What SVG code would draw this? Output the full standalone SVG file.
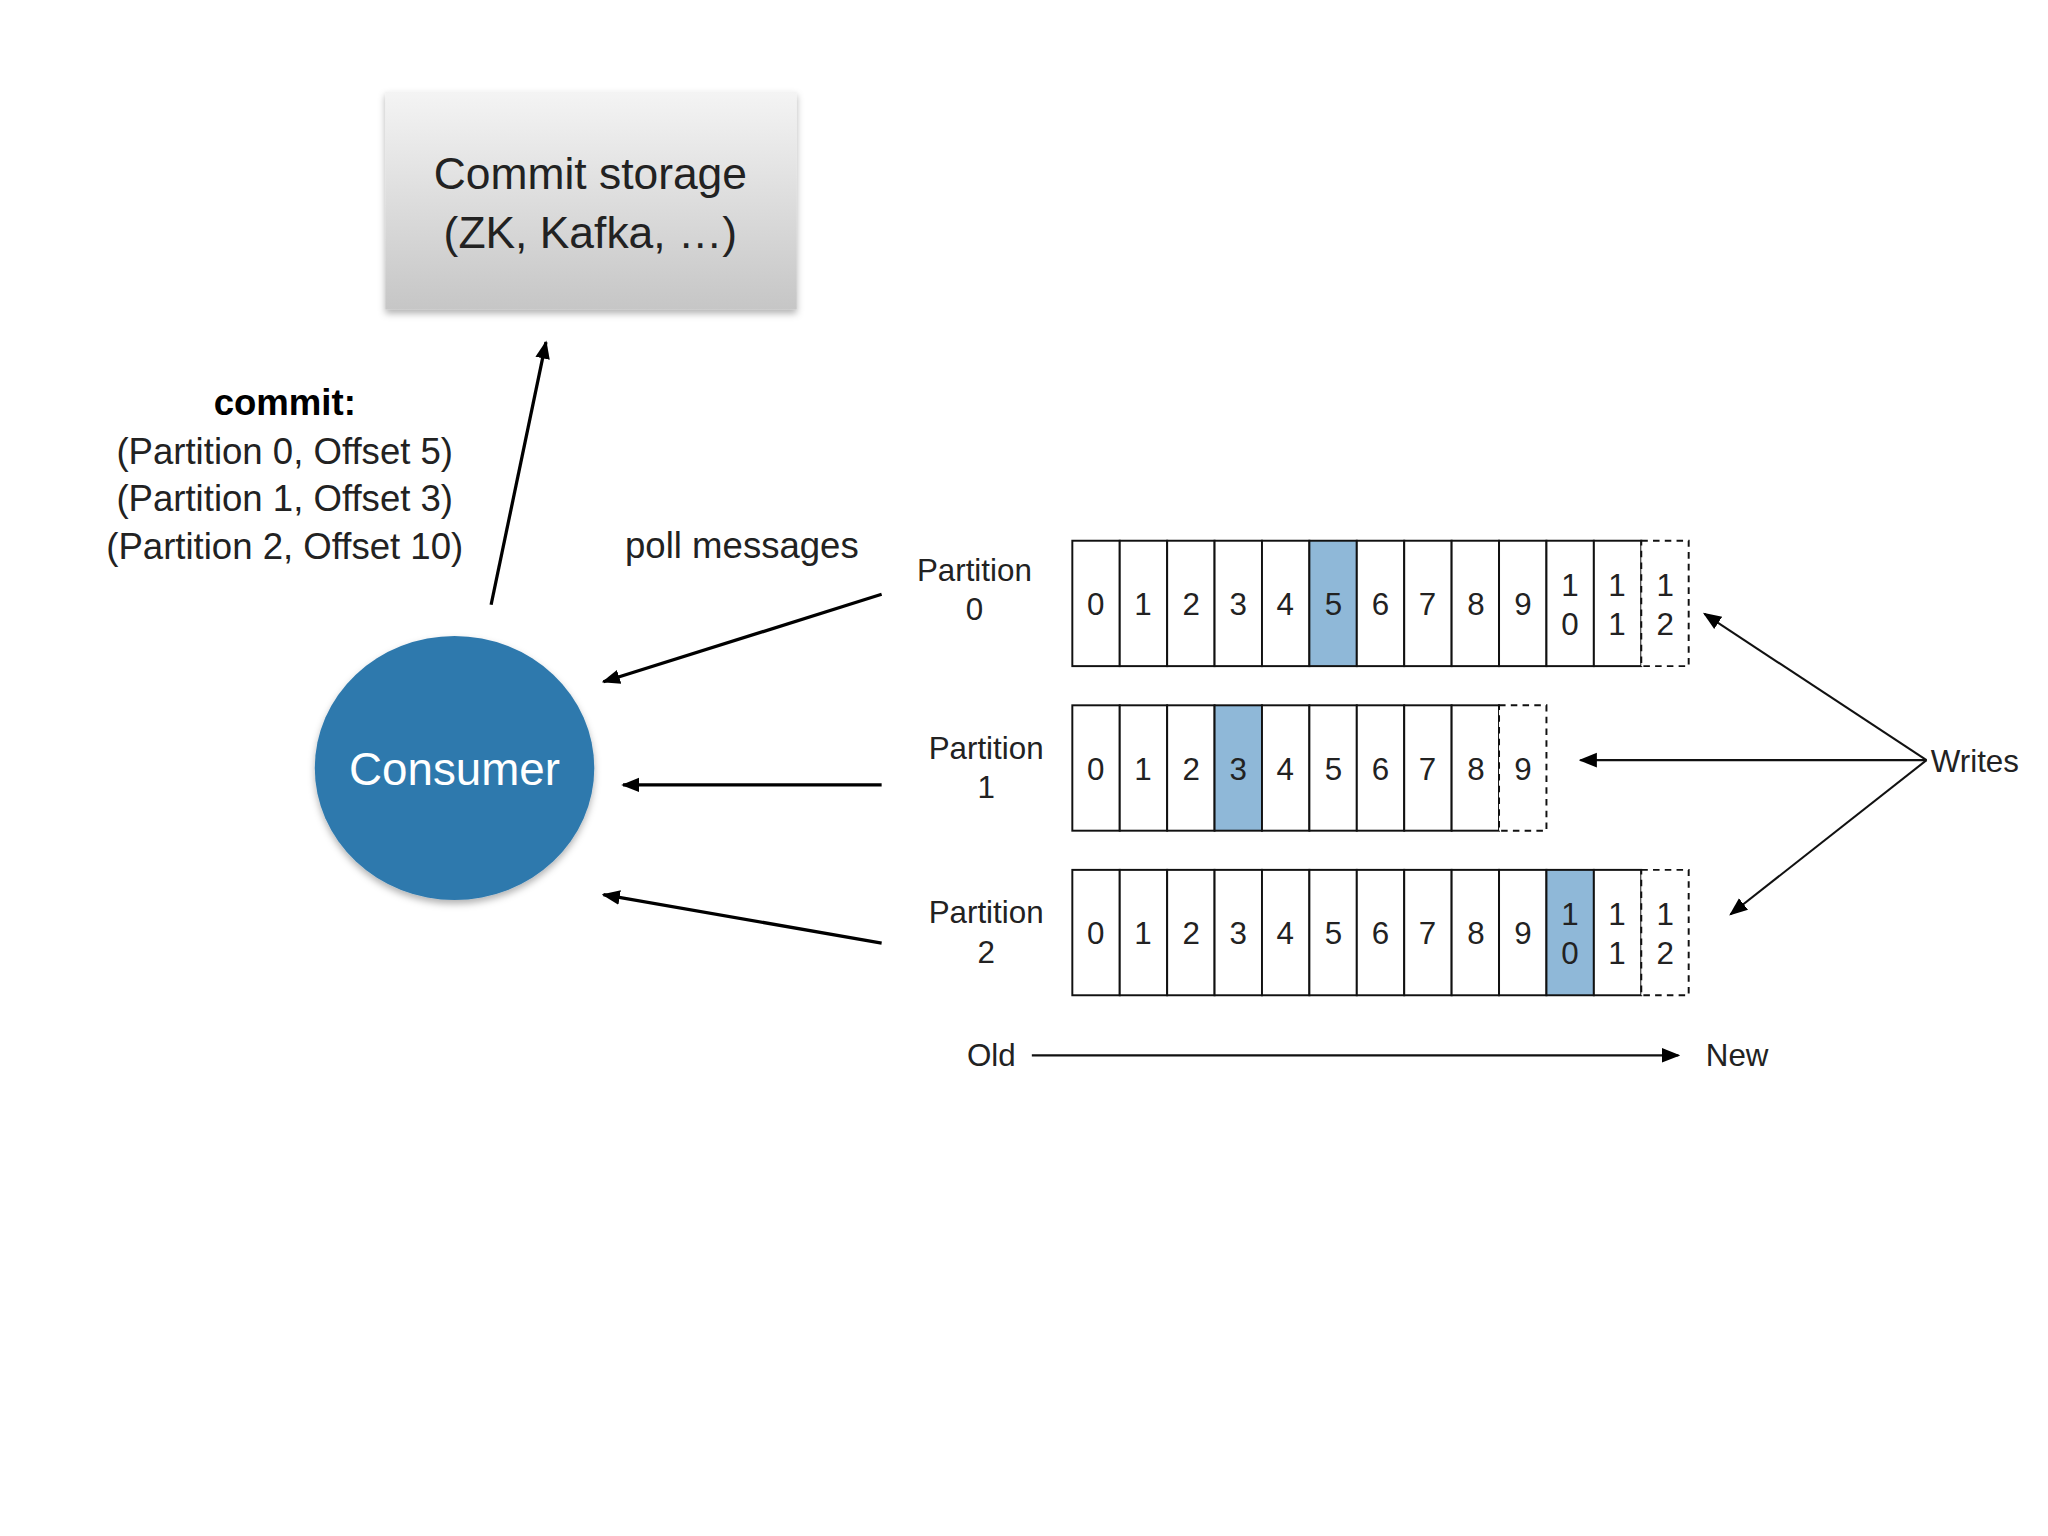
<svg xmlns="http://www.w3.org/2000/svg" width="2048" height="1536" viewBox="0 0 2048 1536">
<defs>
<linearGradient id="g" x1="0" y1="0" x2="0" y2="1"><stop offset="0" stop-color="#f4f4f4"/><stop offset="1" stop-color="#c6c6c6"/></linearGradient>
<filter id="sh" x="-10%" y="-10%" width="120%" height="130%"><feDropShadow dx="0" dy="3" stdDeviation="3" flood-opacity="0.3"/></filter>
<marker id="a" viewBox="0 0 10 10" refX="9" refY="5" markerWidth="7" markerHeight="7" orient="auto-start-reverse" markerUnits="userSpaceOnUse"><path d="M0,0L10,5L0,10z" fill="#000"/></marker>
<marker id="b" viewBox="0 0 10 10" refX="9" refY="5" markerWidth="14" markerHeight="14" orient="auto" markerUnits="userSpaceOnUse"><path d="M0,1L10,5L0,9z" fill="#000"/></marker>
</defs>
<style>
text{font-family:"Helvetica Neue","Liberation Sans",Arial,sans-serif;text-anchor:middle}
.c{fill:#fff;stroke:#111;stroke-width:1.5}
.d{fill:#fff;stroke:#111;stroke-width:1.5;stroke-dasharray:5,4}
.h{fill:#8fb8d8;stroke:#111;stroke-width:1.5}
.n{font-size:24px;fill:#222}
.p{font-size:24px;fill:#222}
.l{stroke:#000;stroke-width:2.5;fill:none}
.t{stroke:#111;stroke-width:1.6;fill:none}
</style>
<rect width="2048" height="1536" fill="#fff"/>
<g transform="scale(1.30612)">
<g id="commit-storage">
<rect x="295" y="70" width="315" height="167" fill="url(#g)" filter="url(#sh)"/>
<text x="452" y="145" font-size="34" fill="#222">Commit storage</text>
<text x="452" y="190" font-size="34" fill="#222">(ZK, Kafka, …)</text>
</g>
<g id="consumer">
<ellipse cx="348" cy="588" rx="107" ry="101" fill="#2f79ad" filter="url(#sh)"/>
<text x="348" y="601" font-size="35" fill="#fff">Consumer</text>
</g>
<g id="labels">
<text x="218" y="318" font-size="28" font-weight="bold">commit:</text>
<text x="218" y="355" font-size="28" fill="#222">(Partition 0, Offset 5)</text>
<text x="218" y="391" font-size="28" fill="#222">(Partition 1, Offset 3)</text>
<text x="218" y="428" font-size="28" fill="#222">(Partition 2, Offset 10)</text>
<text x="568" y="427" font-size="28" fill="#222">poll messages</text>
</g>
<g id="connectors">
<line class="l" x1="376" y1="463" x2="418" y2="262" marker-end="url(#b)"/>
<line class="l" x1="675" y1="455" x2="462" y2="522" marker-end="url(#b)"/>
<line class="l" x1="675" y1="601" x2="477" y2="601" marker-end="url(#b)"/>
<line class="l" x1="675" y1="722" x2="462" y2="685" marker-end="url(#b)"/>
<line class="t" x1="1475" y1="582" x2="1305" y2="470" marker-end="url(#b)"/>
<line class="t" x1="1475" y1="582" x2="1210" y2="582" marker-end="url(#b)"/>
<line class="t" x1="1475" y1="582" x2="1325" y2="700" marker-end="url(#b)"/>
<line class="t" x1="790" y1="808" x2="1285" y2="808" marker-end="url(#b)"/>
</g>
<g id="partition-0">
<text class="p" x="746" y="445">Partition</text><text class="p" x="746" y="475">0</text>
<rect class="c" x="821" y="414" width="36.3" height="96"/><rect class="c" x="857.3" y="414" width="36.3" height="96"/><rect class="c" x="893.6" y="414" width="36.3" height="96"/><rect class="c" x="929.9" y="414" width="36.3" height="96"/><rect class="c" x="966.2" y="414" width="36.3" height="96"/><rect class="h" x="1002.5" y="414" width="36.3" height="96"/><rect class="c" x="1038.8" y="414" width="36.3" height="96"/><rect class="c" x="1075.1" y="414" width="36.3" height="96"/><rect class="c" x="1111.4" y="414" width="36.3" height="96"/><rect class="c" x="1147.7" y="414" width="36.3" height="96"/><rect class="c" x="1184" y="414" width="36.3" height="96"/><rect class="c" x="1220.3" y="414" width="36.3" height="96"/><rect class="d" x="1256.6" y="414" width="36.3" height="96"/>
<text class="n" x="839" y="471">0</text><text class="n" x="875" y="471">1</text><text class="n" x="912" y="471">2</text><text class="n" x="948" y="471">3</text><text class="n" x="984" y="471">4</text><text class="n" x="1021" y="471">5</text><text class="n" x="1057" y="471">6</text><text class="n" x="1093" y="471">7</text><text class="n" x="1130" y="471">8</text><text class="n" x="1166" y="471">9</text>
<text class="n" x="1202" y="456">1</text><text class="n" x="1202" y="486">0</text><text class="n" x="1238" y="456">1</text><text class="n" x="1238" y="486">1</text><text class="n" x="1275" y="456">1</text><text class="n" x="1275" y="486">2</text>
</g>
<g id="partition-1">
<text class="p" x="755" y="581">Partition</text><text class="p" x="755" y="611">1</text>
<rect class="c" x="821" y="540" width="36.3" height="96"/><rect class="c" x="857.3" y="540" width="36.3" height="96"/><rect class="c" x="893.6" y="540" width="36.3" height="96"/><rect class="h" x="929.9" y="540" width="36.3" height="96"/><rect class="c" x="966.2" y="540" width="36.3" height="96"/><rect class="c" x="1002.5" y="540" width="36.3" height="96"/><rect class="c" x="1038.8" y="540" width="36.3" height="96"/><rect class="c" x="1075.1" y="540" width="36.3" height="96"/><rect class="c" x="1111.4" y="540" width="36.3" height="96"/><rect class="d" x="1147.7" y="540" width="36.3" height="96"/>
<text class="n" x="839" y="597">0</text><text class="n" x="875" y="597">1</text><text class="n" x="912" y="597">2</text><text class="n" x="948" y="597">3</text><text class="n" x="984" y="597">4</text><text class="n" x="1021" y="597">5</text><text class="n" x="1057" y="597">6</text><text class="n" x="1093" y="597">7</text><text class="n" x="1130" y="597">8</text><text class="n" x="1166" y="597">9</text>
</g>
<g id="partition-2">
<text class="p" x="755" y="707">Partition</text><text class="p" x="755" y="737">2</text>
<rect class="c" x="821" y="666" width="36.3" height="96"/><rect class="c" x="857.3" y="666" width="36.3" height="96"/><rect class="c" x="893.6" y="666" width="36.3" height="96"/><rect class="c" x="929.9" y="666" width="36.3" height="96"/><rect class="c" x="966.2" y="666" width="36.3" height="96"/><rect class="c" x="1002.5" y="666" width="36.3" height="96"/><rect class="c" x="1038.8" y="666" width="36.3" height="96"/><rect class="c" x="1075.1" y="666" width="36.3" height="96"/><rect class="c" x="1111.4" y="666" width="36.3" height="96"/><rect class="c" x="1147.7" y="666" width="36.3" height="96"/><rect class="h" x="1184" y="666" width="36.3" height="96"/><rect class="c" x="1220.3" y="666" width="36.3" height="96"/><rect class="d" x="1256.6" y="666" width="36.3" height="96"/>
<text class="n" x="839" y="723">0</text><text class="n" x="875" y="723">1</text><text class="n" x="912" y="723">2</text><text class="n" x="948" y="723">3</text><text class="n" x="984" y="723">4</text><text class="n" x="1021" y="723">5</text><text class="n" x="1057" y="723">6</text><text class="n" x="1093" y="723">7</text><text class="n" x="1130" y="723">8</text><text class="n" x="1166" y="723">9</text>
<text class="n" x="1202" y="708">1</text><text class="n" x="1202" y="738">0</text><text class="n" x="1238" y="708">1</text><text class="n" x="1238" y="738">1</text><text class="n" x="1275" y="708">1</text><text class="n" x="1275" y="738">2</text>
</g>
<g id="axis">
<text class="p" x="1512" y="591">Writes</text>
<text class="p" x="759" y="816">Old</text>
<text class="p" x="1330" y="816">New</text>
</g>
</g>
</svg>
